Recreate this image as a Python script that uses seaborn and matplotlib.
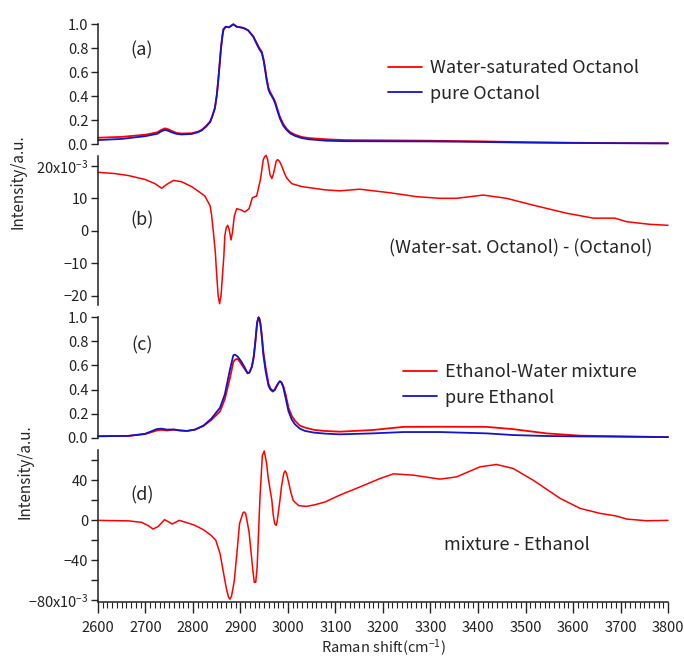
import seaborn as sns
import matplotlib.pyplot as plt
from matplotlib.ticker import MultipleLocator

# (a) octanol spectra, normalised
oct_x = [2600, 2650, 2700, 2725, 2733, 2741, 2748, 2755, 2765, 2776, 2797, 2810, 2818, 2827,
         2836, 2840, 2846, 2850, 2853, 2856, 2859, 2862, 2864, 2869, 2876, 2881, 2885, 2892,
         2906, 2916, 2927, 2936, 2940, 2945, 2949, 2952, 2955, 2959, 2962, 2966, 2970, 2973,
         2978, 2983, 2990, 2997, 3005, 3015, 3028, 3043, 3080, 3120, 3200, 3300, 3400, 3500,
         3600, 3700, 3800]
oct_wet = [0.055, 0.062, 0.08, 0.10, 0.12, 0.133, 0.125, 0.112, 0.095, 0.09, 0.092, 0.105, 0.12, 0.15,
           0.19, 0.23, 0.30, 0.40, 0.52, 0.66, 0.80, 0.90, 0.95, 0.98, 0.975, 0.99, 1.0, 0.98,
           0.97, 0.95, 0.90, 0.83, 0.80, 0.77, 0.70, 0.63, 0.55, 0.47, 0.44, 0.41, 0.38, 0.355,
           0.29, 0.23, 0.17, 0.13, 0.10, 0.08, 0.062, 0.052, 0.042, 0.035, 0.033, 0.03, 0.025, 0.018,
           0.013, 0.01, 0.008]
oct_pure = [0.035, 0.045, 0.068, 0.088, 0.108, 0.12, 0.112, 0.10, 0.087, 0.082, 0.086, 0.10, 0.115, 0.145,
            0.185, 0.225, 0.30, 0.41, 0.53, 0.67, 0.81, 0.91, 0.96, 0.98, 0.975, 0.99, 1.0, 0.98,
            0.97, 0.95, 0.895, 0.82, 0.79, 0.76, 0.69, 0.615, 0.535, 0.455, 0.425, 0.40, 0.37, 0.34,
            0.275, 0.215, 0.155, 0.12, 0.09, 0.07, 0.053, 0.042, 0.03, 0.026, 0.025, 0.024, 0.02, 0.014,
            0.011, 0.009, 0.008]

# (b) difference wet - pure octanol (x10^-3)
odiff_x = [2600, 2636, 2664, 2699, 2720, 2734, 2745, 2759, 2776, 2797, 2811, 2825, 2836,
           2839, 2843, 2847, 2850, 2853, 2856, 2859, 2862, 2865, 2867, 2870, 2873, 2876,
           2880, 2883, 2887, 2892, 2902, 2909, 2918, 2925, 2934, 2942, 2948, 2951, 2954,
           2957, 2959, 2962, 2966, 2969, 2973, 2975, 2978, 2982, 2987, 2992, 2997, 3008,
           3029, 3078, 3109, 3151, 3215, 3271, 3320, 3355, 3411, 3460, 3516, 3587, 3643,
           3688, 3713, 3762, 3800]
odiff_y = [18.0, 17.6, 17.0, 15.8, 14.5, 13.1, 14.3, 15.5, 15.1, 13.6, 12.2, 10.7, 7.7,
           5.0, -0.5, -6.6, -13.8, -20.0, -22.4, -20.0, -13.8, -7.6, -1.5, 1.0, 1.7, 0.5,
           -2.8, -0.5, 4.6, 6.8, 6.4, 5.8, 6.8, 10.2, 10.7, 15.8, 21.9, 22.8, 23.2,
           22.0, 20.4, 17.3, 16.1, 17.3, 19.9, 21.4, 21.9, 21.4, 19.9, 17.9, 16.3, 14.5,
           13.6, 12.6, 12.3, 12.8, 11.7, 10.5, 10.0, 10.0, 11.0, 10.0, 7.9, 5.4, 3.9,
           3.9, 2.8, 2.0, 1.7]

# (c) ethanol spectra, normalised
eth_x = [2600, 2664, 2699, 2724, 2734, 2745, 2759, 2773, 2787, 2804, 2822, 2839, 2857,
         2867, 2878, 2885, 2888, 2892, 2895, 2902, 2908, 2915, 2919, 2924, 2928, 2931,
         2935, 2938, 2940, 2942, 2945, 2948, 2953, 2959, 2963, 2968, 2972, 2976, 2980,
         2983, 2986, 2990, 2995, 3001, 3008, 3015, 3025, 3036, 3055, 3078, 3109, 3179,
         3243, 3320, 3418, 3474, 3544, 3614, 3705, 3800]
eth_mix = [0.012, 0.015, 0.03, 0.06, 0.065, 0.06, 0.066, 0.06, 0.056, 0.067, 0.098, 0.148, 0.22,
           0.32, 0.50, 0.63, 0.645, 0.655, 0.65, 0.61, 0.575, 0.535, 0.54, 0.59, 0.67, 0.78,
           0.95, 1.0, 0.99, 0.95, 0.85, 0.72, 0.58, 0.45, 0.41, 0.39, 0.40, 0.43, 0.455,
           0.465, 0.46, 0.43, 0.36, 0.25, 0.18, 0.14, 0.10, 0.084, 0.065, 0.056, 0.05, 0.064,
           0.09, 0.091, 0.09, 0.071, 0.036, 0.017, 0.011, 0.005]
eth_pure = [0.012, 0.015, 0.032, 0.072, 0.075, 0.067, 0.069, 0.06, 0.056, 0.067, 0.10, 0.16, 0.25,
            0.36, 0.57, 0.685, 0.69, 0.68, 0.67, 0.63, 0.59, 0.535, 0.545, 0.59, 0.68, 0.79,
            0.96, 1.0, 0.98, 0.94, 0.83, 0.69, 0.55, 0.43, 0.40, 0.383, 0.395, 0.425, 0.455,
            0.47, 0.46, 0.42, 0.33, 0.22, 0.15, 0.11, 0.075, 0.056, 0.042, 0.034, 0.028, 0.036,
            0.047, 0.047, 0.036, 0.022, 0.014, 0.011, 0.008, 0.005]

# (d) difference mixture - ethanol (x10^-3)
ediff_x = [2600, 2664, 2692, 2706, 2716, 2727, 2740, 2748, 2756, 2771, 2787, 2804, 2822,
           2838, 2848, 2857, 2867, 2871, 2875, 2878, 2881, 2884, 2887, 2892, 2898, 2905,
           2908, 2911, 2918, 2926, 2929, 2932, 2935, 2941, 2946, 2950, 2955, 2958, 2966,
           2969, 2972, 2975, 2977, 2983, 2986, 2991, 2994, 2997, 3002, 3006, 3011, 3015,
           3023, 3039, 3057, 3078, 3109, 3152, 3194, 3222, 3264, 3320, 3355, 3404, 3439,
           3474, 3516, 3573, 3615, 3657, 3692, 3713, 3755, 3800]
ediff_y = [0, -0.5, -2, -5.3, -8.7, -6, 0.7, -1.3, -3.7, 0, -2.3, -5, -9.4,
           -15, -20, -33.4, -60, -70, -77, -79, -76, -68.5, -60, -35, -3.3, 7.4,
           8.4, 6.7, -11.7, -50, -62, -62, -47, 23, 65, 69.5, 57, 43.5, 20,
           5, -3.3, -5, -1.7, 20, 33, 47, 49.6, 47, 36.8, 28, 20, 18,
           14.7, 14, 15.7, 18.4, 25.3, 33.6, 42, 46.6, 45.3, 41.3, 43.6, 53.6, 56,
           52, 40.3, 22, 12, 7, 4.3, 1.3, -0.4, 0]

RED = '#ff0000'
BLUE = '#1414c8'

sns.set_style('ticks')
plt.rcParams['font.family'] = ['Noto Sans CJK JP', 'DejaVu Sans']
plt.rcParams['mathtext.fontset'] = 'custom'
plt.rcParams['mathtext.rm'] = 'Noto Sans CJK JP'
plt.rcParams['mathtext.it'] = 'Noto Sans CJK JP'
plt.rcParams['axes.unicode_minus'] = True

fig = plt.figure(figsize=(6.84, 6.57), dpi=100)
L, W = 98 / 684, 570 / 684


def make_ax(top, bottom):
    ax = fig.add_axes([L, 1 - bottom / 657, W, (bottom - top) / 657])
    for s in ['top', 'right', 'bottom']:
        ax.spines[s].set_visible(False)
    ax.spines['left'].set_linewidth(1.1)
    ax.spines['left'].set_color('#222222')
    ax.set_xlim(2600, 3800)
    ax.tick_params(axis='y', direction='out', length=5, width=1.0, labelsize=10.5,
                   colors='#222222', pad=2)
    ax.tick_params(axis='x', bottom=False, labelbottom=False)
    ax.set_xlabel('')
    ax.set_ylabel('')
    return ax


def add_legend(ax, x0, y0):
    ax.legend(loc='upper left', bbox_to_anchor=(x0 / 684, 1 - y0 / 657),
              bbox_transform=fig.transFigure, frameon=False, fontsize=13,
              handlelength=1.9, handletextpad=0.45, labelspacing=0.42,
              borderpad=0, borderaxespad=0)


ax_a = make_ax(24.3, 144.3)
sns.lineplot(x=oct_x, y=oct_wet, color=RED, lw=1.3, label='Water-saturated Octanol', ax=ax_a)
sns.lineplot(x=oct_x, y=oct_pure, color=BLUE, lw=1.3, label='pure Octanol', ax=ax_a)
ax_a.set_ylim(0, 1.0)
ax_a.set_yticks([0, 0.2, 0.4, 0.6, 0.8, 1.0])
ax_a.set_yticklabels(['0.0', '0.2', '0.4', '0.6', '0.8', '1.0'])
add_legend(ax_a, 388, 59)

ax_b = make_ax(155.7, 305)
sns.lineplot(x=odiff_x, y=odiff_y, color=RED, lw=1.1, ax=ax_b)
ax_b.set_ylim(-22.8, 23.1)
ax_b.set_yticks([-20, -10, 0, 10, 20])
ax_b.set_yticklabels(['\u221220', '\u221210', '0', '10', '20x10$^{\u22123}$'])

ax_c = make_ax(317.3, 437.7)
sns.lineplot(x=eth_x, y=eth_mix, color=RED, lw=1.3, label='Ethanol-Water mixture', ax=ax_c)
sns.lineplot(x=eth_x, y=eth_pure, color=BLUE, lw=1.3, label='pure Ethanol', ax=ax_c)
ax_c.set_ylim(0, 1.0)
ax_c.set_yticks([0, 0.2, 0.4, 0.6, 0.8, 1.0])
ax_c.set_yticklabels(['0.0', '0.2', '0.4', '0.6', '0.8', '1.0'])
add_legend(ax_c, 403, 363)

ax_d = make_ax(450, 601.7)
sns.lineplot(x=ediff_x, y=ediff_y, color=RED, lw=1.1, ax=ax_d)
ax_d.set_ylim(-81.5, 70.5)
ax_d.set_yticks([-80, -40, 0, 40])
ax_d.set_yticklabels(['\u221280x10$^{\u22123}$', '\u221240', '0', '40'])
ax_d.yaxis.set_minor_locator(MultipleLocator(20))
ax_d.tick_params(axis='y', which='minor', direction='out', length=5, width=1.0, colors='#222222')
ax_d.spines['bottom'].set_visible(True)
ax_d.spines['bottom'].set_linewidth(1.1)
ax_d.spines['bottom'].set_color('#222222')
ax_d.set_xticks(range(2600, 3801, 100))
ax_d.xaxis.set_minor_locator(MultipleLocator(10))
ax_d.tick_params(axis='x', which='major', bottom=True, labelbottom=True, direction='out',
                 length=8, width=1.0, labelsize=10.5, colors='#222222', pad=6)
ax_d.tick_params(axis='x', which='minor', bottom=True, direction='out', length=4, width=0.8,
                 colors='#222222')

for ax in (ax_a, ax_b, ax_c, ax_d):
    for line in ax.get_lines():
        line.set_clip_on(False)

# panel tags and annotations
for tag, yp in [('(a)', 50), ('(b)', 220), ('(c)', 345), ('(d)', 495)]:
    fig.text(142 / 684, 1 - yp / 657, tag, fontsize=13, ha='center', va='center')
fig.text(389 / 684, 1 - 248 / 657, '(Water-sat. Octanol) - (Octanol)', fontsize=13,
         ha='left', va='center')
fig.text(444 / 684, 1 - 545 / 657, 'mixture - Ethanol', fontsize=13, ha='left', va='center')

fig.text(18 / 684, 1 - 182 / 657, 'Intensity/a.u.', fontsize=11, rotation=90,
         ha='center', va='center')
fig.text(25 / 684, 1 - 472 / 657, 'Intensity/a.u.', fontsize=11, rotation=90,
         ha='center', va='center')
fig.text(383 / 684, 1 - 648 / 657, 'Raman shift(cm$^{\u22121}$)', fontsize=10.5,
         ha='center', va='center')

fig.savefig('out.png', dpi=100)
